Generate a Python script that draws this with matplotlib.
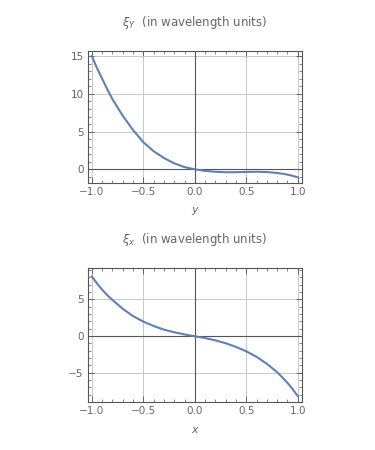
import numpy as np
import matplotlib.pyplot as plt
from matplotlib.ticker import MultipleLocator

# values
coord = [-1.0, -0.95, -0.9, -0.85, -0.8, -0.7, -0.6, -0.5, -0.4, -0.3, -0.2, -0.1, 0.0,
         0.1, 0.2, 0.3, 0.4, 0.5, 0.6, 0.7, 0.8, 0.85, 0.9, 0.95, 1.0]
xi_Y = [15.0, 13.4, 12.0, 10.6, 9.3, 7.1, 5.2, 3.6, 2.4, 1.5, 0.8, 0.3, 0.0,
        -0.2, -0.32, -0.38, -0.38, -0.34, -0.32, -0.36, -0.48, -0.58, -0.7, -0.86, -1.05]
xi_x = [8.1, 7.15, 6.3, 5.55, 4.9, 3.7, 2.7, 1.95, 1.35, 0.85, 0.5, 0.2, -0.05,
        -0.3, -0.6, -1.0, -1.5, -2.1, -2.85, -3.8, -4.95, -5.65, -6.4, -7.25, -8.2]

titles = [r'$\xi_Y$  (in wavelength units)', r'$\xi_x$  (in wavelength units)']
xlabels = ['y', 'x']
ylims = [(-1.77, 15.7), (-9.05, 9.23)]
xticks = [-1.0, -0.5, 0.0, 0.5, 1.0]

line_col = '#5E81B5'
text_col = '#666666'
frame_col = '#555555'

fig = plt.figure(figsize=(3.75, 4.5), dpi=100)
boxes = [[0.234, 0.594, 0.571, 0.293], [0.234, 0.106, 0.571, 0.298]]

for i, yy in enumerate([xi_Y, xi_x]):
    ax = fig.add_axes(boxes[i])
    ax.plot(coord, yy, color=line_col, lw=1.5, zorder=3)
    ax.set_xlim(-1.04, 1.04)
    ax.set_ylim(*ylims[i])
    ax.axhline(0, color=frame_col, lw=0.8, zorder=2)
    ax.axvline(0, color=frame_col, lw=0.8, zorder=2)
    ax.set_xticks(xticks)
    ax.set_xticklabels([('%.1f' % v).replace('-', '\u2212') for v in xticks])
    ax.yaxis.set_major_locator(MultipleLocator(5))
    ax.xaxis.set_minor_locator(MultipleLocator(0.1))
    ax.yaxis.set_minor_locator(MultipleLocator(1))
    ax.grid(True, which='major', color='#c8c8c8', lw=0.7)
    ax.tick_params(which='both', direction='in', top=True, right=True,
                   color=frame_col, labelsize=7.5, labelcolor=text_col, pad=3)
    ax.tick_params(which='major', length=4, width=0.6)
    ax.tick_params(which='minor', length=2, width=0.5)
    for s in ax.spines.values():
        s.set_color(frame_col)
        s.set_linewidth(0.8)
    ax.set_xlabel(xlabels[i], fontsize=8, color=text_col, style='italic', labelpad=6)
    ax.set_title(titles[i], fontsize=8.5, color=text_col, pad=18)

plt.savefig('out.png', dpi=100)
